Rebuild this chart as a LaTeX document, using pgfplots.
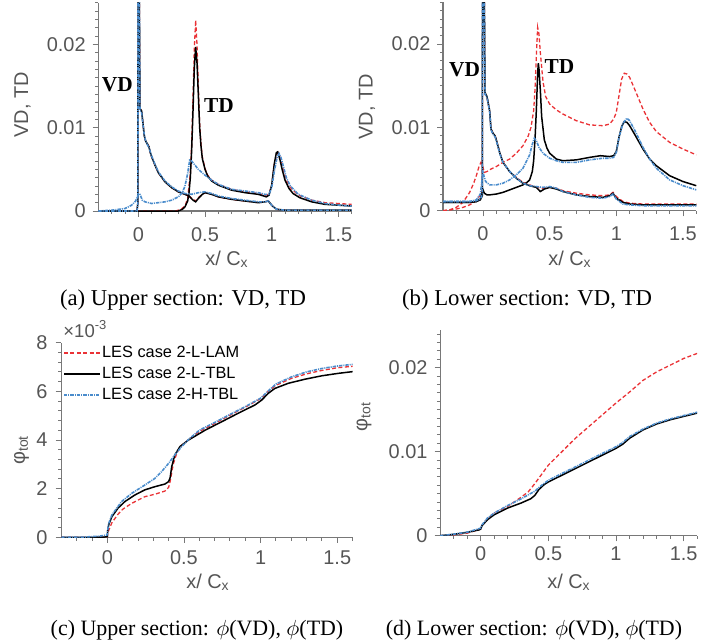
\documentclass[border=0pt]{standalone}
\usepackage{fontspec}
\setmainfont{Liberation Serif}
\setsansfont{Liberation Sans}
\usepackage{pgfplots}
\pgfplotsset{compat=1.18}
\definecolor{myred}{RGB}{234,50,54}
\definecolor{myblue}{RGB}{74,140,204}
\definecolor{axgray}{RGB}{120,120,120}
\definecolor{lblgray}{RGB}{85,85,85}
\pgfplotsset{
  panel/.style={
    scale only axis, anchor=south west,
    axis x line=bottom, axis y line=left,
    axis line style={-, draw=axgray, line width=0.6bp},
    tick align=outside,
    major tick length=2.8bp, minor tick length=1.6bp,
    tick style={draw=axgray, line width=0.45bp},
    ticklabel style={font=\sffamily\fontsize{10}{11}\selectfont, text=lblgray},
    xmin=-0.3, xmax=1.6, ymin=0,
    xtick={0,0.5,1,1.5}, xticklabels={0,0.5,1,1.5},
    minor xtick={-0.2,-0.1,0.1,0.2,0.3,0.4,0.6,0.7,0.8,0.9,1.1,1.2,1.3,1.4,1.6},
    scaled y ticks=false, scaled x ticks=false,
  },
  rd/.style={myred, line width=0.65bp, dash pattern=on 2bp off 1.2bp},
  bk/.style={black, line width=0.75bp},
  bl/.style={myblue, line width=0.8bp, dash pattern=on 1.7bp off 0.5bp on 0.5bp off 0.5bp},
}
\begin{document}
\begin{tikzpicture}
% ---------------- (a) upper section VD, TD
\begin{axis}[panel, at={(49.15bp,-105.5bp)}, width=126.7bp, height=104.15bp, ymax=0.025,
  ytick={0,0.01,0.02}, yticklabels={0,0.01,0.02},
  minor ytick={0.001,0.002,0.003,0.004,0.005,0.006,0.007,0.008,0.009,0.011,0.012,0.013,0.014,0.015,0.016,0.017,0.018,0.019,0.021,0.022,0.023,0.024,0.025},
  xticklabel style={yshift=-2bp}]
% red VD
\addplot[rd] coordinates {(-0.3,0) (-0.01,0) (-0.003,0.001) (0,0.08) (0.006,0.03) (0.0125,0.0123) (0.025,0.0120) (0.035,0.0105) (0.045,0.0090) (0.055,0.0084) (0.07,0.0080) (0.08,0.0077) (0.09,0.0070) (0.1,0.0065) (0.125,0.0055) (0.15,0.0046) (0.2,0.0035) (0.25,0.0028) (0.3,0.0023) (0.35,0.0020) (0.38,0.0018) (0.41,0.0014) (0.43,0.0012) (0.45,0.0016) (0.48,0.0020) (0.5,0.0022) (0.55,0.0020) (0.6,0.0017) (0.7,0.0014) (0.8,0.0012) (0.9,0.0010) (0.95,0.0011) (0.975,0.0012) (1.0,0.0007) (1.02,0.0004) (1.04,0.0002) (1.1,0.0001) (1.6,0.0001)};
% red TD
\addplot[rd] coordinates {(-0.3,0) (0.28,0) (0.32,0.0002) (0.35,0.0006) (0.37,0.0015) (0.39,0.0045) (0.40,0.0080) (0.41,0.0135) (0.42,0.0195) (0.43,0.0229) (0.44,0.0200) (0.45,0.0150) (0.46,0.0105) (0.47,0.0080) (0.48,0.0065) (0.5,0.0051) (0.52,0.0043) (0.55,0.0037) (0.6,0.0032) (0.7,0.0026) (0.8,0.0023) (0.9,0.0021) (0.95,0.0019) (0.98,0.0020) (1.0,0.0031) (1.02,0.0056) (1.04,0.0069) (1.05,0.0070) (1.07,0.0061) (1.09,0.0048) (1.11,0.0037) (1.14,0.0028) (1.2,0.0019) (1.3,0.0013) (1.4,0.0010) (1.5,0.0009) (1.6,0.0008)};
% black VD
\addplot[bk] coordinates {(-0.3,0) (-0.01,0) (-0.003,0.001) (0,0.08) (0.006,0.03) (0.0125,0.0123) (0.025,0.0120) (0.035,0.0105) (0.045,0.0090) (0.055,0.0084) (0.07,0.0080) (0.08,0.0077) (0.09,0.0070) (0.1,0.0065) (0.125,0.0055) (0.15,0.0046) (0.2,0.0035) (0.25,0.0028) (0.3,0.0023) (0.35,0.0020) (0.38,0.0018) (0.41,0.0013) (0.43,0.0011) (0.45,0.0015) (0.48,0.0020) (0.5,0.0022) (0.55,0.0020) (0.6,0.0017) (0.7,0.0014) (0.8,0.0012) (0.9,0.0010) (0.95,0.0011) (0.975,0.0012) (1.0,0.0007) (1.02,0.0004) (1.04,0.0002) (1.1,0.0001) (1.6,0.0001)};
% black TD
\addplot[bk] coordinates {(-0.3,0) (0.3,0) (0.33,0.0002) (0.35,0.0005) (0.37,0.0012) (0.38,0.0022) (0.39,0.0040) (0.40,0.0073) (0.41,0.0120) (0.42,0.0172) (0.43,0.0197) (0.44,0.0178) (0.45,0.0140) (0.46,0.0100) (0.47,0.0078) (0.48,0.0063) (0.5,0.0050) (0.52,0.0042) (0.55,0.0036) (0.6,0.0031) (0.65,0.0028) (0.7,0.0025) (0.8,0.0022) (0.9,0.0020) (0.94,0.0018) (0.96,0.0017) (0.98,0.0019) (1.0,0.0031) (1.02,0.0057) (1.035,0.0070) (1.045,0.0071) (1.06,0.0063) (1.08,0.0049) (1.1,0.0037) (1.13,0.0027) (1.16,0.0021) (1.21,0.0016) (1.3,0.0011) (1.4,0.0008) (1.5,0.0007) (1.6,0.0006)};
% blue VD
\addplot[bl] coordinates {(-0.3,0) (-0.01,0) (-0.003,0.001) (0,0.08) (0.006,0.03) (0.0125,0.0121) (0.025,0.0118) (0.035,0.0104) (0.045,0.0091) (0.055,0.0084) (0.07,0.0079) (0.08,0.0076) (0.09,0.0071) (0.1,0.0066) (0.125,0.0056) (0.15,0.0047) (0.2,0.0036) (0.25,0.0029) (0.3,0.0024) (0.35,0.0021) (0.4,0.0020) (0.45,0.0022) (0.5,0.0023) (0.55,0.0021) (0.6,0.0018) (0.7,0.0015) (0.8,0.0013) (0.9,0.0011) (0.95,0.0011) (0.975,0.0012) (1.0,0.0007) (1.02,0.0004) (1.04,0.0002) (1.1,0.0001) (1.6,0.0001)};
% blue TD
\addplot[bl] coordinates {(-0.3,0) (-0.2,0.0001) (-0.1,0.0003) (-0.05,0.0007) (-0.02,0.0012) (0,0.0020) (0.01,0.0021) (0.03,0.0013) (0.05,0.0011) (0.1,0.0009) (0.2,0.0011) (0.25,0.0013) (0.3,0.0017) (0.33,0.0022) (0.35,0.0030) (0.37,0.0045) (0.385,0.0061) (0.40,0.0060) (0.42,0.0056) (0.45,0.0050) (0.5,0.0043) (0.55,0.0037) (0.6,0.0032) (0.7,0.0026) (0.8,0.0024) (0.9,0.0022) (0.95,0.0020) (0.98,0.0020) (1.0,0.0028) (1.02,0.0048) (1.04,0.0064) (1.055,0.0069) (1.07,0.0064) (1.09,0.0052) (1.11,0.0040) (1.14,0.0030) (1.2,0.0020) (1.3,0.0013) (1.4,0.0009) (1.5,0.0007) (1.6,0.0006)};
\end{axis}
% ---------------- (b) lower section VD, TD
\begin{axis}[panel, at={(221.5bp,-105.35bp)}, width=126.65bp, height=104.15bp, ymax=0.025,
  ytick={0,0.01,0.02}, yticklabels={0,0.01,0.02},
  minor ytick={0.001,0.002,0.003,0.004,0.005,0.006,0.007,0.008,0.009,0.011,0.012,0.013,0.014,0.015,0.016,0.017,0.018,0.019,0.021,0.022,0.023,0.024,0.025},
  xticklabel style={yshift=-1.8bp}]
% red VD
\addplot[rd] coordinates {(-0.3,0) (-0.25,0.0001) (-0.2,0.0002) (-0.15,0.0004) (-0.1,0.0007) (-0.05,0.0012) (-0.02,0.0019) (-0.005,0.0024) (0,0.08) (0.008,0.03) (0.015,0.0140) (0.03,0.0136) (0.05,0.0119) (0.06,0.0098) (0.075,0.0093) (0.09,0.0090) (0.1,0.0085) (0.125,0.0070) (0.15,0.0058) (0.2,0.0047) (0.25,0.0040) (0.3,0.0034) (0.35,0.0031) (0.4,0.0028) (0.45,0.0027) (0.5,0.0028) (0.55,0.0027) (0.6,0.0024) (0.7,0.0021) (0.8,0.0019) (0.9,0.0018) (0.95,0.0019) (0.975,0.0022) (1.0,0.0017) (1.05,0.0011) (1.1,0.0009) (1.2,0.0008) (1.6,0.0008)};
% red TD
\addplot[rd] coordinates {(-0.3,0) (-0.25,0.0001) (-0.2,0.0004) (-0.15,0.0010) (-0.1,0.0022) (-0.07,0.0033) (-0.05,0.0042) (-0.03,0.0053) (-0.015,0.0058) (0,0.0052) (0.01,0.0046) (0.03,0.0047) (0.06,0.0050) (0.1,0.0053) (0.15,0.0058) (0.2,0.0062) (0.25,0.0069) (0.3,0.0078) (0.34,0.0090) (0.36,0.0100) (0.38,0.0120) (0.39,0.0145) (0.40,0.0185) (0.41,0.0220) (0.42,0.0212) (0.43,0.0190) (0.45,0.0155) (0.47,0.0137) (0.5,0.0128) (0.55,0.0121) (0.6,0.0116) (0.7,0.0108) (0.8,0.0103) (0.9,0.0102) (0.95,0.0104) (0.98,0.0110) (1.0,0.0118) (1.02,0.0138) (1.04,0.0158) (1.06,0.0165) (1.08,0.0164) (1.1,0.0160) (1.14,0.0145) (1.2,0.0122) (1.25,0.0106) (1.3,0.0095) (1.4,0.0082) (1.5,0.0074) (1.6,0.0067)};
% black VD
\addplot[bk] coordinates {(-0.3,0.0010) (-0.1,0.0010) (-0.05,0.0011) (-0.02,0.0013) (-0.005,0.0018) (0,0.08) (0.008,0.03) (0.015,0.0142) (0.03,0.0137) (0.05,0.0120) (0.06,0.0098) (0.075,0.0093) (0.09,0.0090) (0.1,0.0085) (0.125,0.0070) (0.15,0.0058) (0.2,0.0047) (0.25,0.0039) (0.3,0.0033) (0.35,0.0030) (0.4,0.0028) (0.43,0.0023) (0.46,0.0026) (0.5,0.0028) (0.55,0.0026) (0.6,0.0023) (0.7,0.0019) (0.8,0.0017) (0.9,0.0016) (0.95,0.0018) (0.975,0.0021) (1.0,0.0015) (1.05,0.0010) (1.1,0.0008) (1.2,0.0007) (1.6,0.0007)};
% black TD
\addplot[bk] coordinates {(-0.3,0.0010) (-0.1,0.0010) (-0.05,0.0011) (-0.02,0.0014) (0,0.0025) (0.01,0.0021) (0.03,0.0019) (0.05,0.0019) (0.1,0.0020) (0.15,0.0022) (0.2,0.0025) (0.25,0.0028) (0.3,0.0031) (0.33,0.0034) (0.35,0.0037) (0.37,0.0047) (0.38,0.0060) (0.39,0.0085) (0.40,0.0120) (0.41,0.0165) (0.415,0.0177) (0.42,0.0170) (0.43,0.0145) (0.44,0.0113) (0.46,0.0085) (0.48,0.0075) (0.5,0.0069) (0.55,0.0062) (0.6,0.0060) (0.7,0.0061) (0.8,0.0064) (0.88,0.0066) (0.95,0.0065) (0.98,0.0066) (1.0,0.0071) (1.02,0.0088) (1.04,0.0101) (1.06,0.0107) (1.08,0.0106) (1.1,0.0102) (1.14,0.0091) (1.2,0.0074) (1.25,0.0062) (1.3,0.0054) (1.4,0.0042) (1.5,0.0035) (1.6,0.0030)};
% blue VD
\addplot[bl] coordinates {(-0.3,0.0011) (-0.1,0.0011) (-0.05,0.0012) (-0.02,0.0014) (-0.005,0.0019) (0,0.08) (0.008,0.03) (0.015,0.0140) (0.03,0.0136) (0.05,0.0119) (0.06,0.0097) (0.075,0.0092) (0.09,0.0089) (0.1,0.0084) (0.125,0.0069) (0.15,0.0058) (0.2,0.0047) (0.25,0.0039) (0.3,0.0033) (0.35,0.0030) (0.4,0.0029) (0.45,0.0028) (0.5,0.0029) (0.55,0.0027) (0.6,0.0023) (0.7,0.0019) (0.8,0.0016) (0.9,0.0015) (0.95,0.0017) (0.975,0.0020) (1.0,0.0014) (1.05,0.0008) (1.1,0.0007) (1.2,0.0006) (1.6,0.0006)};
% blue TD
\addplot[bl] coordinates {(-0.3,0.0011) (-0.1,0.0011) (-0.05,0.0013) (-0.02,0.0020) (-0.005,0.0040) (0,0.0046) (0.01,0.0040) (0.02,0.0035) (0.05,0.0031) (0.1,0.0031) (0.15,0.0033) (0.2,0.0037) (0.25,0.0043) (0.3,0.0051) (0.35,0.0067) (0.37,0.0080) (0.385,0.0087) (0.40,0.0084) (0.42,0.0076) (0.45,0.0069) (0.5,0.0063) (0.55,0.0060) (0.6,0.0058) (0.7,0.0058) (0.8,0.0061) (0.9,0.0063) (0.95,0.0063) (0.98,0.0064) (1.0,0.0070) (1.02,0.0088) (1.05,0.0105) (1.08,0.0111) (1.1,0.0108) (1.14,0.0096) (1.2,0.0076) (1.25,0.0062) (1.3,0.0051) (1.4,0.0037) (1.5,0.0030) (1.6,0.0025)};
\end{axis}
% ---------------- (c) upper section phi
\begin{axis}[panel, at={(30.65bp,-268.65bp)}, width=145.65bp, height=97.3bp, ymax=0.008,
  ytick={0,0.002,0.004,0.006,0.008}, yticklabels={0,2,4,6,8},
  minor ytick={0.0004,0.0008,0.0012,0.0016,0.0024,0.0028,0.0032,0.0036,0.0044,0.0048,0.0052,0.0056,0.0064,0.0068,0.0072,0.0076},
  xticklabel style={yshift=-0.4bp}, yticklabel style={xshift=-0.6bp},
  legend cell align=left,
  legend style={draw=none, fill=none, inner sep=0bp, at={(axis description cs:0,1)}, anchor=north west, xshift=0.8bp, yshift=-0.5bp,
    font=\sffamily\fontsize{8.2}{9}\selectfont, text=black,
    nodes={inner sep=0.6bp, text height=6.2bp, text depth=1.6bp}, row sep=1.5bp},
  legend image code/.code={\draw[#1] (0bp,0bp) -- (18bp,0bp);}]
\addplot[rd] coordinates {(-0.3,0) (-0.1,0) (0,0.00002) (0.005,0.0002) (0.01,0.0003) (0.03,0.0006) (0.07,0.00095) (0.1,0.00115) (0.16,0.0014) (0.245,0.00167) (0.31,0.00177) (0.376,0.0019) (0.40,0.00205) (0.41,0.0023) (0.43,0.0030) (0.45,0.0034) (0.474,0.00372) (0.53,0.00402) (0.6,0.00435) (0.7,0.00468) (0.8,0.00502) (0.9,0.00535) (1.0,0.00570) (1.05,0.00600) (1.1,0.00625) (1.2,0.00653) (1.3,0.00672) (1.4,0.00686) (1.5,0.00697) (1.6,0.00703)};
\addlegendentry{LES case 2-L-LAM}
\addplot[bk] coordinates {(-0.3,0) (-0.1,0) (-0.02,0.00001) (0,0.00003) (0.003,0.0003) (0.01,0.00053) (0.03,0.00085) (0.07,0.00120) (0.115,0.00147) (0.18,0.00174) (0.245,0.00195) (0.31,0.00208) (0.376,0.00219) (0.40,0.00229) (0.41,0.00245) (0.42,0.00290) (0.44,0.00338) (0.474,0.00373) (0.53,0.00400) (0.64,0.00441) (0.746,0.00475) (0.854,0.00510) (0.963,0.00544) (1.007,0.00564) (1.05,0.00592) (1.093,0.00612) (1.18,0.00633) (1.29,0.00650) (1.4,0.00664) (1.507,0.00674) (1.6,0.00681)};
\addlegendentry{LES case 2-L-TBL}
\addplot[bl] coordinates {(-0.3,0) (-0.15,0.00001) (-0.05,0.00005) (0,0.0001) (0.005,0.0004) (0.01,0.00058) (0.03,0.00092) (0.093,0.00147) (0.16,0.00181) (0.245,0.00215) (0.31,0.00242) (0.354,0.0027) (0.40,0.00304) (0.44,0.00338) (0.485,0.00373) (0.53,0.00402) (0.6,0.0044) (0.7,0.00472) (0.8,0.00505) (0.9,0.00537) (1.0,0.00572) (1.05,0.00602) (1.1,0.0063) (1.2,0.00659) (1.3,0.0068) (1.4,0.00694) (1.5,0.00704) (1.6,0.00711)};
\addlegendentry{LES case 2-H-TBL}
\end{axis}
% ---------------- (d) lower section phi
\begin{axis}[panel, at={(220.05bp,-267.85bp)}, width=128.55bp, height=102.9bp, ymax=0.0245,
  ytick={0,0.01,0.02}, yticklabels={0,0.01,0.02},
  minor ytick={0.001,0.002,0.003,0.004,0.005,0.006,0.007,0.008,0.009,0.011,0.012,0.013,0.014,0.015,0.016,0.017,0.018,0.019,0.021,0.022,0.023,0.024},
  xticklabel style={yshift=0.8bp}]
\addplot[rd] coordinates {(-0.3,0) (-0.2,0.0001) (-0.1,0.0003) (0,0.0008) (0.01,0.0012) (0.05,0.0020) (0.1,0.0027) (0.2,0.0035) (0.3,0.0046) (0.35,0.0052) (0.4,0.0062) (0.5,0.0084) (0.6,0.0100) (0.7,0.0116) (0.8,0.0130) (0.9,0.0144) (1.0,0.0158) (1.1,0.0171) (1.2,0.0185) (1.3,0.0195) (1.4,0.0203) (1.5,0.0211) (1.6,0.0217)};
\addplot[bk] coordinates {(-0.3,0) (-0.2,0.00016) (-0.1,0.0004) (-0.01,0.0007) (0,0.0008) (0.01,0.0012) (0.05,0.0019) (0.1,0.0025) (0.2,0.0033) (0.3,0.0039) (0.37,0.0044) (0.4,0.0048) (0.43,0.0055) (0.47,0.0061) (0.5,0.0064) (0.6,0.0072) (0.7,0.0080) (0.8,0.0088) (0.9,0.0096) (1.0,0.0104) (1.05,0.0109) (1.1,0.0116) (1.2,0.0126) (1.3,0.0133) (1.4,0.0138) (1.5,0.0142) (1.6,0.0146)};
\addplot[bl] coordinates {(-0.3,0) (-0.2,0.00018) (-0.1,0.00042) (0,0.0009) (0.01,0.0013) (0.05,0.0021) (0.1,0.0027) (0.2,0.0036) (0.3,0.0044) (0.4,0.0053) (0.45,0.0060) (0.5,0.0066) (0.6,0.0074) (0.7,0.0082) (0.8,0.0090) (0.9,0.0098) (1.0,0.0106) (1.05,0.0111) (1.1,0.0118) (1.2,0.0127) (1.3,0.0134) (1.4,0.0139) (1.5,0.0143) (1.6,0.0147)};
\end{axis}
% ---------------- labels
\tikzset{axlab/.style={font=\sffamily\fontsize{10}{11}\selectfont, text=lblgray, inner sep=0pt},
         ann/.style={font=\bfseries\fontsize{10.7}{12}\selectfont, inner sep=0pt},
         capt/.style={font=\fontsize{11.4}{13}\selectfont, anchor=base, inner sep=0pt}}
\node[axlab, anchor=base] at (113.5bp,-132.5bp) {x/ C\textsubscript{x}};
\node[axlab, anchor=base] at (285bp,-132.5bp) {x/ C\textsubscript{x}};
\node[axlab, anchor=base] at (104bp,-294bp) {x/ C\textsubscript{x}};
\node[axlab, anchor=base] at (284.5bp,-294bp) {x/ C\textsubscript{x}};
\node[axlab, rotate=90] at (11.25bp,-52.5bp) {VD, TD};
\node[axlab, rotate=90] at (183.5bp,-53.5bp) {VD, TD};
\node[axlab, rotate=90] at (10.75bp,-225bp) {φ\textsubscript{tot}};
\node[axlab, rotate=90] at (182bp,-208.25bp) {φ\textsubscript{tot}};
\node[axlab, anchor=base west, font=\sffamily\fontsize{9.3}{10}\selectfont] at (31.5bp,-168.5bp) {×10\textsuperscript{-3}};
\node[ann] at (58.65bp,-42.5bp) {VD};
\node[ann] at (109.5bp,-52.9bp) {TD};
\node[ann] at (232.25bp,-34.75bp) {VD};
\node[ann] at (279.75bp,-33.5bp) {TD};
\node[capt] at (91.5bp,-152.5bp) {(a) Upper section: VD, TD};
\node[capt] at (263.5bp,-152.5bp) {(b) Lower section: VD, TD};
\node[capt, font=\fontsize{11}{13}\selectfont] at (98.5bp,-317.5bp) {(c) Upper section: $\phi$(VD), $\phi$(TD)};
\node[capt, font=\fontsize{11}{13}\selectfont] at (267bp,-317.5bp) {(d) Lower section: $\phi$(VD), $\phi$(TD)};
\pgfresetboundingbox
\path[use as bounding box] (0,0) rectangle (356bp,-320bp);
\end{tikzpicture}
\end{document}
